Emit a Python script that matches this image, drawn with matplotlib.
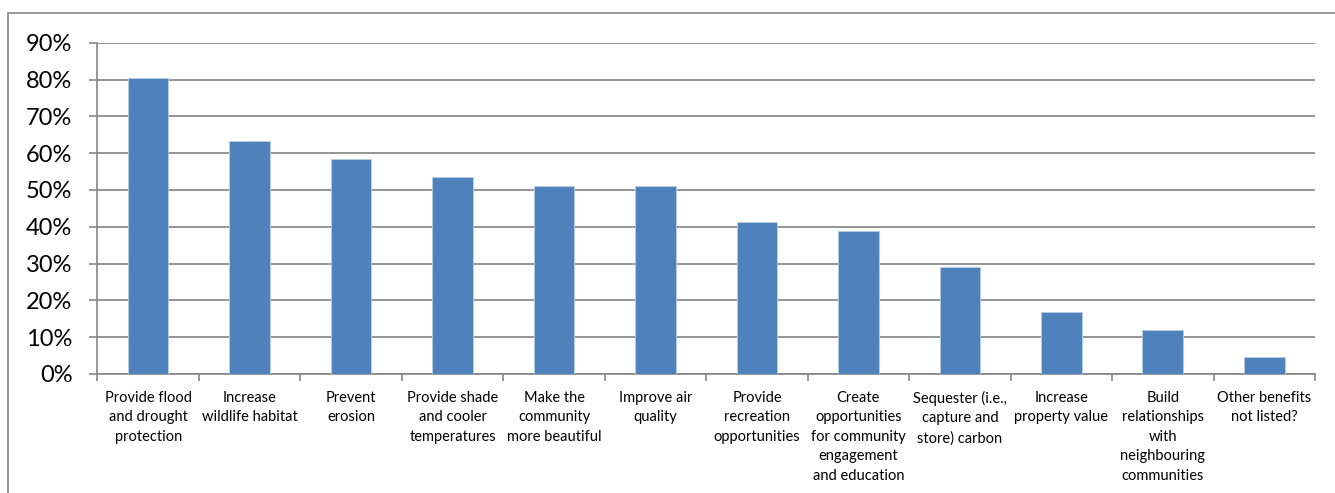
import numpy as np
import matplotlib.pyplot as plt
from matplotlib.patches import Rectangle

categories = [
    "Provide flood\nand drought\nprotection",
    "Increase\nwildlife habitat",
    "Prevent\nerosion",
    "Provide shade\nand cooler\ntemperatures",
    "Make the\ncommunity\nmore beautiful",
    "Improve air\nquality",
    "Provide\nrecreation\nopportunities",
    "Create\nopportunities\nfor community\nengagement\nand education",
    "Sequester (i.e.,\ncapture and\nstore) carbon",
    "Increase\nproperty value",
    "Build\nrelationships\nwith\nneighbouring\ncommunities",
    "Other benefits\nnot listed?",
]
values = [80.5, 63.3, 58.4, 53.6, 51.1, 51.1, 41.4, 38.9, 29.0, 16.8, 12.0, 4.6]
yticks = [0, 10, 20, 30, 40, 50, 60, 70, 80, 90]

plt.rcParams['font.family'] = ['Lato', 'DejaVu Sans']

fig = plt.figure(figsize=(13.35, 4.93), dpi=100)
ax = fig.add_axes([0.073, 0.2414, 0.912, 0.672])

# outer chart border (cut off at right/bottom like the reference)
fig.patches.append(Rectangle((8 / 1335, -0.1), 1.2, 1 - 13 / 493 + 0.1,
                             transform=fig.transFigure, fill=False,
                             edgecolor='#868686', linewidth=1.2))

x = np.arange(len(categories))
ax.bar(x, values, width=0.4, color='#4F81BD', edgecolor='#B9CDE5',
       linewidth=0.6, zorder=3)

ax.set_xlim(-0.5, len(categories) - 0.5)
ax.set_ylim(0, 90)
ax.set_yticks(yticks)
ax.set_yticklabels([f'{v}%' for v in yticks], fontsize=17)
ax.set_xticks(np.arange(len(categories) + 1) - 0.5, minor=False)
ax.set_xticklabels([''] * (len(categories) + 1))
ax.set_xticks(x, minor=True)
ax.set_xticklabels(categories, minor=True, fontsize=10.5, linespacing=1.5)
ax.tick_params(axis='x', which='minor', length=0, pad=12)
ax.tick_params(axis='x', which='major', length=5, color='#868686', width=1.2)
ax.tick_params(axis='y', length=6, color='#868686', width=1.2, pad=12)

ax.grid(True, axis='y', color='#8C8C8C', linewidth=1.3, zorder=0)
ax.set_axisbelow(True)
for side in ['top', 'right']:
    ax.spines[side].set_visible(False)
for side in ['left', 'bottom']:
    ax.spines[side].set_color('#868686')
    ax.spines[side].set_linewidth(1.2)

fig.savefig('out.png', dpi=100)
